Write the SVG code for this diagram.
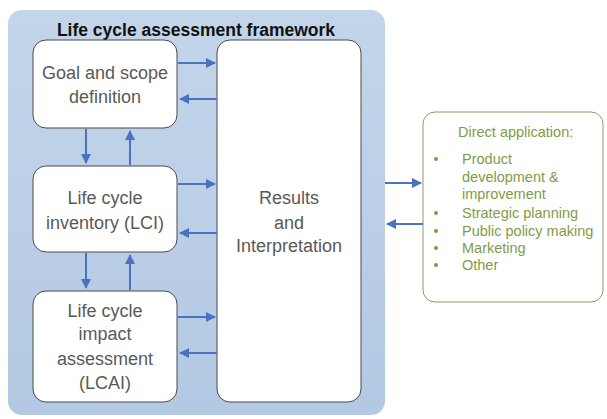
<svg xmlns="http://www.w3.org/2000/svg" width="607" height="419" viewBox="0 0 607 419">
<defs>
<linearGradient id="pg" x1="0" y1="0" x2="0" y2="1">
<stop offset="0" stop-color="#c3d5ea"/>
<stop offset="1" stop-color="#b3c9e3"/>
</linearGradient>
<marker id="ah" viewBox="0 0 10 10" refX="9" refY="5" markerWidth="5" markerHeight="5" orient="auto">
<path d="M0,0 L10,5 L0,10 z" fill="#4a72c0"/>
</marker>
</defs>
<style>
.box{fill:#ffffff;stroke:#4a4a4a;stroke-width:1}
.t{font-family:"Liberation Sans",Arial,sans-serif;font-size:18px;fill:#595959;text-anchor:middle}
.g{font-family:"Liberation Sans",Arial,sans-serif;font-size:14.5px;fill:#7f9c45}
.c{stroke:#4a72c0;stroke-width:2;fill:none;marker-end:url(#ah)}
</style>
<rect width="607" height="419" fill="#ffffff"/>
<g id="panel">
<rect x="8" y="10" width="377" height="405" rx="14" fill="url(#pg)"/>
<text x="196" y="36" font-family="Liberation Sans,Arial,sans-serif" font-size="17.5" font-weight="bold" fill="#111111" text-anchor="middle">Life cycle assessment framework</text>
</g>
<g id="goal">
<rect class="box" x="33" y="40" width="144" height="88" rx="13"/>
<text class="t" x="105" y="79">Goal and scope</text>
<text class="t" x="105" y="103">definition</text>
</g>
<g id="lci">
<rect class="box" x="33" y="166" width="144" height="86" rx="13"/>
<text class="t" x="105" y="204">Life cycle</text>
<text class="t" x="105" y="229">inventory (LCI)</text>
</g>
<g id="lcia">
<rect class="box" x="33" y="291" width="144" height="111" rx="13"/>
<text class="t" x="105" y="317">Life cycle</text>
<text class="t" x="105" y="340">impact</text>
<text class="t" x="105" y="365">assessment</text>
<text class="t" x="105" y="389">(LCAI)</text>
</g>
<g id="results">
<rect class="box" x="217" y="40" width="144" height="362" rx="13"/>
<text class="t" x="289" y="204">Results</text>
<text class="t" x="289" y="229">and</text>
<text class="t" x="289" y="252">Interpretation</text>
</g>
<g id="application">
<rect x="423" y="112" width="180" height="190" rx="12" fill="#ffffff" stroke="#8a9a6a" stroke-width="1"/>
<text class="g" x="458" y="137">Direct application:</text>
<g fill="#7f9c45">
<circle cx="436" cy="159" r="2"/>
<circle cx="436" cy="213" r="2"/>
<circle cx="436" cy="231" r="2"/>
<circle cx="436" cy="248" r="2"/>
<circle cx="436" cy="265" r="2"/>
</g>
<text class="g" x="462" y="164">Product</text>
<text class="g" x="462" y="182">development &amp;</text>
<text class="g" x="462" y="199">improvement</text>
<text class="g" x="462" y="218">Strategic planning</text>
<text class="g" x="462" y="236">Public policy making</text>
<text class="g" x="462" y="253">Marketing</text>
<text class="g" x="462" y="270">Other</text>
</g>
<g id="connectors">
<line class="c" x1="178" y1="63" x2="215" y2="63"/>
<line class="c" x1="217" y1="99" x2="180" y2="99"/>
<line class="c" x1="86" y1="129" x2="86" y2="163"/>
<line class="c" x1="130" y1="165" x2="130" y2="131"/>
<line class="c" x1="178" y1="184" x2="215" y2="184"/>
<line class="c" x1="217" y1="233" x2="180" y2="233"/>
<line class="c" x1="86" y1="253" x2="86" y2="288"/>
<line class="c" x1="130" y1="290" x2="130" y2="255"/>
<line class="c" x1="178" y1="317" x2="215" y2="317"/>
<line class="c" x1="217" y1="353" x2="180" y2="353"/>
<line class="c" x1="385" y1="183" x2="421" y2="183"/>
<line class="c" x1="423" y1="224" x2="387" y2="224"/>
</g>
</svg>
